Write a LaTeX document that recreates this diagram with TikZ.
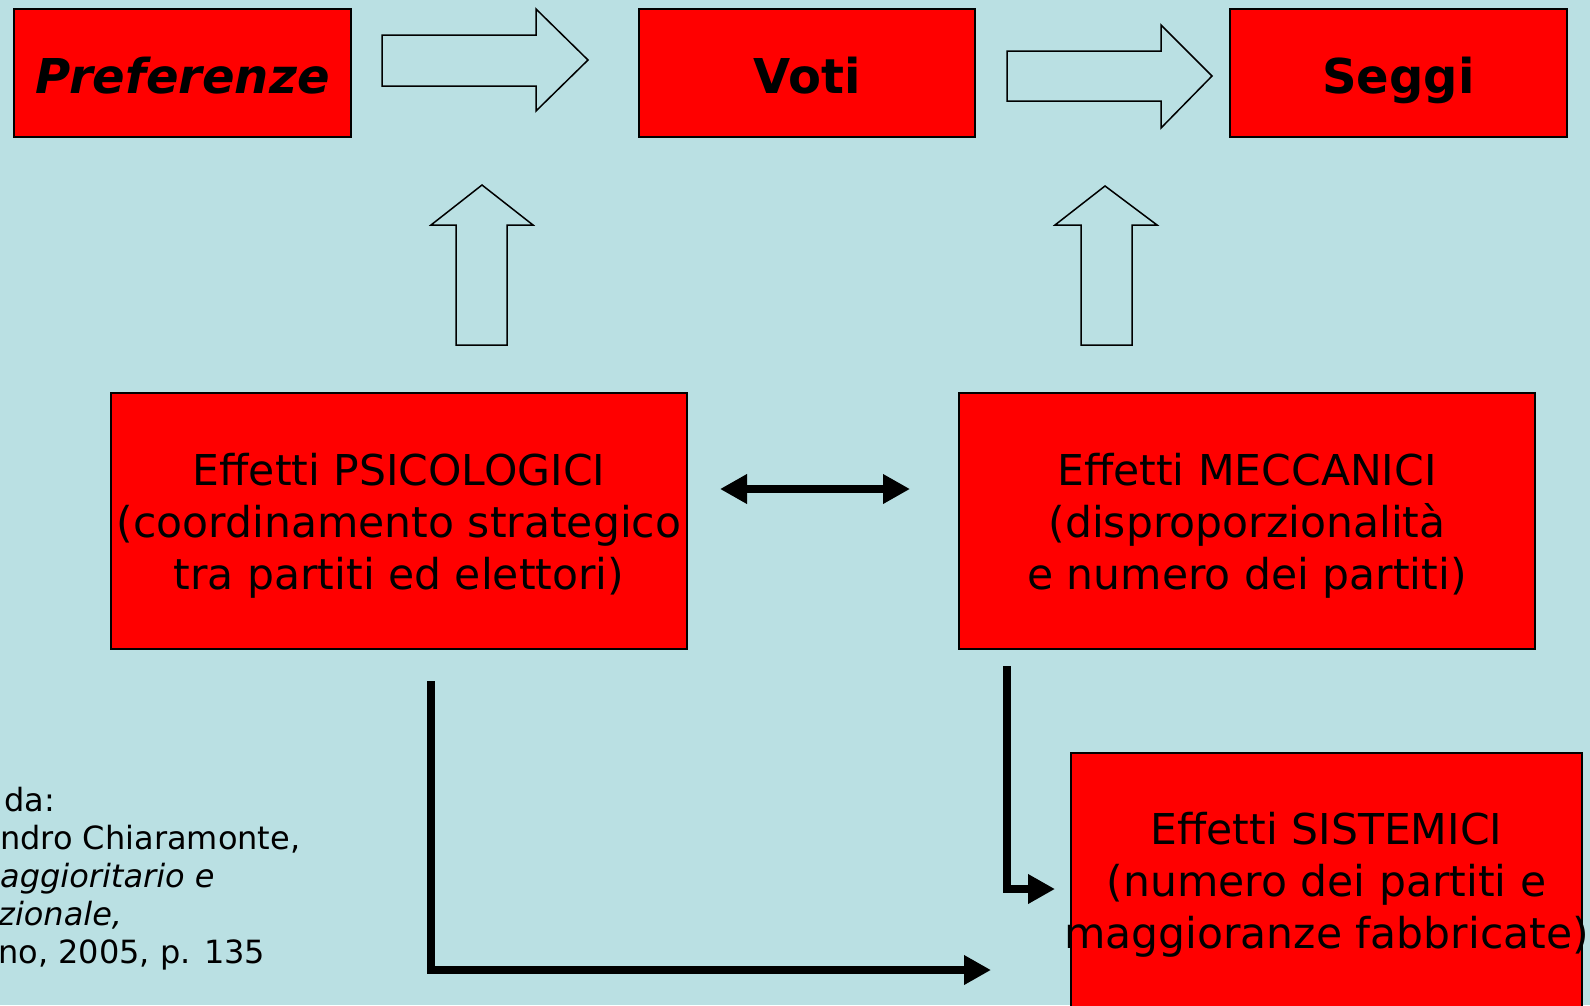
\documentclass[tikz,border=0pt]{standalone}
\usepackage{fontspec}
\setmainfont{DejaVu Sans}
\usetikzlibrary{arrows.meta}
\definecolor{bg}{RGB}{186,224,227}
\definecolor{boxred}{RGB}{255,0,0}
\begin{document}
\begin{tikzpicture}[x=1pt,y=-1pt,
  box/.style={draw=black, line width=1.5pt, fill=boxred, inner sep=0pt, outer sep=0pt},
  lbl/.style={inner sep=0pt, align=center, font=\fontsize{42.5}{52}\selectfont},
  title/.style={inner sep=0pt, anchor=base, font=\fontsize{48}{56}\selectfont\bfseries},
  note/.style={inner sep=0pt, anchor=base west, font=\fontsize{32}{38}\selectfont},
  blockarrow/.style={draw=black, line width=1.5pt, line join=miter},
  conn/.style={line width=8pt, line join=miter, -{Triangle[length=27pt,width=28pt]}}]
\useasboundingbox (0,0) rectangle (1590,1005);
\fill[bg] (0,0) rectangle (1590,1005);
\clip (0,0) rectangle (1590,1005);

% top boxes
\node[box, minimum width=337pt, minimum height=128pt] (pref) at (182.5,73) {};
\node[title] (preft) at (182.5,93.5) {\itshape Preferenze};
\node[box, minimum width=336pt, minimum height=128pt] (voti) at (807,73) {};
\node[title] (votit) at (807,93.5) {Voti};
\node[box, minimum width=337pt, minimum height=128pt] (seggi) at (1398.5,73) {};
\node[title] (seggit) at (1398.5,93.5) {Seggi};

% middle boxes
\node[box, minimum width=576pt, minimum height=256pt] (psi) at (399,521) {};
\node[lbl] (psit) at ([yshift=-5pt]psi.center) {Effetti PSICOLOGICI\\(coordinamento strategico\\tra partiti ed elettori)};
\node[box, minimum width=576pt, minimum height=256pt] (mec) at (1247,521) {};
\node[lbl] (mect) at ([yshift=-5pt]mec.center) {Effetti MECCANICI\\(disproporzionalità\hspace*{14pt}\\e numero dei partiti)};

% bottom box
\node[box, minimum width=511pt, minimum height=256pt] (sis) at (1326.5,881) {};
\node[lbl] (sist) at ([yshift=-4pt]sis.center) {Effetti SISTEMICI\\(numero dei partiti e\\maggioranze fabbricate)};

% block arrows
\draw[blockarrow] (382,35) -- (536,35) -- (536,9) -- (588,60) -- (536,111) -- (536,86) -- (382,86) -- cycle;
\draw[blockarrow] (1007,51) -- (1161,51) -- (1161,25) -- (1212,76) -- (1161,128) -- (1161,101) -- (1007,101) -- cycle;
\draw[blockarrow] (482,185) -- (533,225) -- (507,225) -- (507,345) -- (456,345) -- (456,225) -- (431,225) -- cycle;
\draw[blockarrow] (1105,186) -- (1157,225) -- (1132,225) -- (1132,345) -- (1081,345) -- (1081,225) -- (1055,225) -- cycle;

% connectors
\coordinate (d1) at (720,489);
\coordinate (d2) at (910,489);
\draw[line width=8pt, {Triangle[length=27pt,width=28pt]}-{Triangle[length=27pt,width=28pt]}] (d1) -- (d2);
\coordinate (p1) at (431,681);
\coordinate (p2) at (991,970);
\draw[conn] (p1) |- (p2);
\coordinate (m1) at (1007,666);
\coordinate (m2) at (1055,889);
\draw[conn] (m1) |- (m2);

% source note
\node[note] (n1) at (4,811) {da:};
\node[note] (n2) at (0,849) {ndro Chiaramonte,};
\node[note] (n3) at (0,887) {\itshape aggioritario e};
\node[note] (n4) at (-2,925) {\itshape zionale,};
\node[note] (n5) at (-2,963) {no, 2005, p. 135};
\end{tikzpicture}
\end{document}
